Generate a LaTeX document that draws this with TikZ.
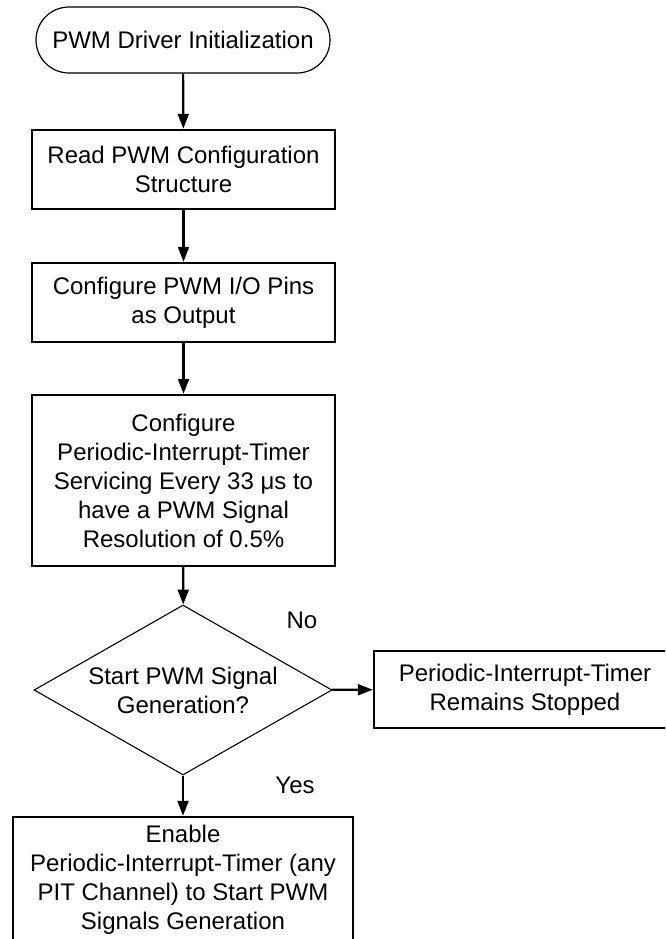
\documentclass[tikz,border=0pt]{standalone}
\usepackage{fontspec}
\setmainfont{Liberation Sans}
\usetikzlibrary{shapes.geometric, shapes.misc, arrows.meta}

\begin{document}
\begin{tikzpicture}[x=1pt,y=-1pt,
    font=\fontsize{24}{29}\selectfont,
    startstop/.style={rounded rectangle, draw, line width=1.2pt, minimum width=294pt, minimum height=66pt, inner sep=0pt},
    procbox/.style={rectangle, draw, line width=2.4pt, minimum width=303pt, align=center, inner sep=0pt},
    decision/.style={diamond, draw, line width=1.1pt, aspect=1.75, minimum width=298pt, minimum height=170pt, inner sep=0pt, align=center},
    flow/.style={line width=2.2pt, -{Triangle[length=15pt,width=11pt]}}]
       \useasboundingbox (0,0) rectangle (665,939);
       \clip (0,0) rectangle (665,939);
       % main column
       \node[startstop] (init) at (183,40) {PWM Driver Initialization};
       \node[procbox, minimum height=79pt] (readcfg) at (183.5,169.5) {Read PWM Configuration\\Structure};
       \node[procbox, minimum height=79pt] (pins) at (183.5,302.5) {Configure PWM I/O Pins\\as Output};
       \node[procbox, minimum height=171pt] (pit) at (183.5,480.5) {Configure\\Periodic-Interrupt-Timer\\Servicing Every 33 μs to\\have a PWM Signal\\Resolution of 0.5\%};
       \node[decision] (start) at (183,690) {Start PWM Signal\\Generation?};
       \node[procbox, minimum width=302pt, minimum height=77pt] (stopped) at (525,689.5) {Periodic-Interrupt-Timer\\Remains Stopped};
       \node[procbox, minimum width=340pt, minimum height=126pt] (enable) at (183,880) {Enable\\Periodic-Interrupt-Timer (any\\PIT Channel) to Start PWM\\Signals Generation};
       % labels
       \node (no) at (302,620) {No};
       \node (yes) at (295,785) {Yes};
       % connectors
       \draw[flow] (init) -- (readcfg);
       \draw[flow] (readcfg) -- (pins);
       \draw[flow] (pins) -- (pit);
       \draw[flow] (pit) -- (start);
       \draw[flow] (start) -- (stopped);
       \draw[flow] (start) -- (enable);
     \end{tikzpicture}
\end{document}
